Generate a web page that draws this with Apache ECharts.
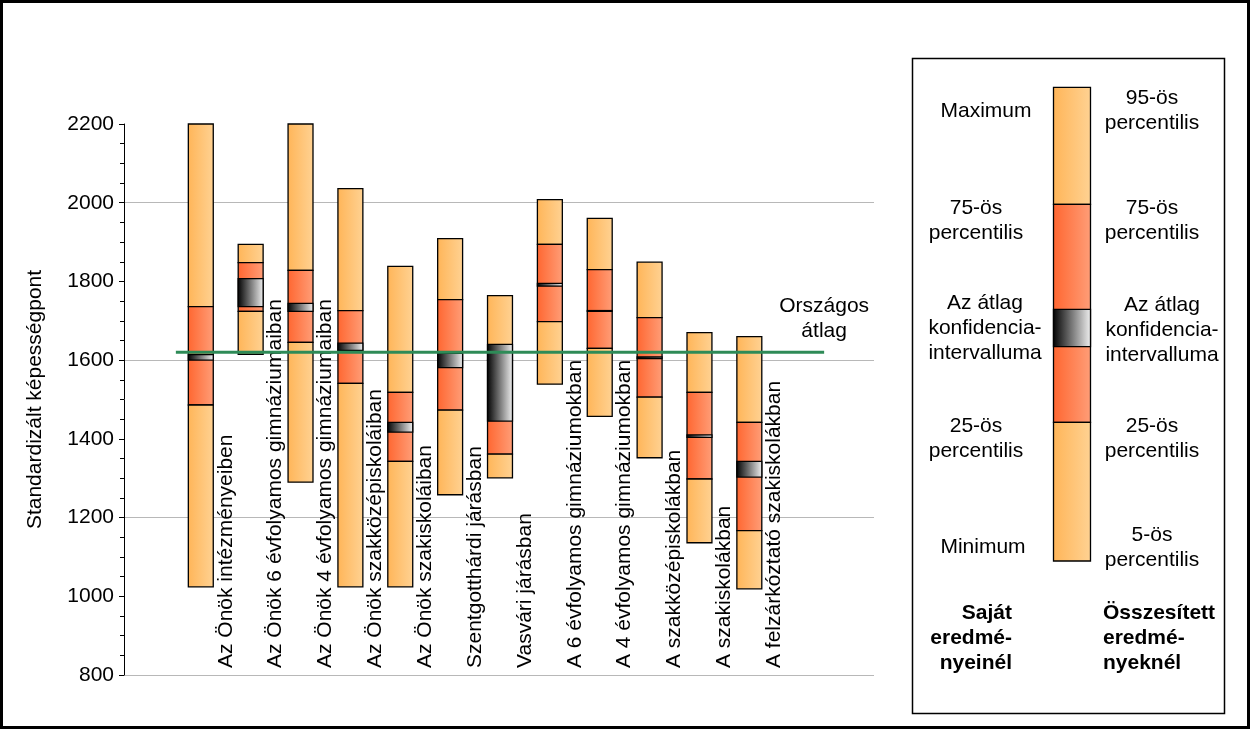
<!DOCTYPE html>
<html>
<head>
<meta charset="utf-8">
<script src="https://cdn.jsdelivr.net/npm/echarts@6/dist/echarts.min.js"></script>
<style>
html,body{margin:0;padding:0;background:#fff;}
#chart{width:1250px;height:729px;}
</style>
</head>
<body>
<div id="chart"></div>
<script>
// ---- data ----
const categories = [
  'Az Önök intézményeiben',
  'Az Önök 6 évfolyamos gimnáziumaiban',
  'Az Önök 4 évfolyamos gimnáziumaiban',
  'Az Önök szakközépiskoláiban',
  'Az Önök szakiskoláiban',
  'Szentgotthárdi járásban',
  'Vasvári járásban',
  'A 6 évfolyamos gimnáziumokban',
  'A 4 évfolyamos gimnáziumokban',
  'A szakközépiskolákban',
  'A szakiskolákban',
  'A felzárkóztató szakiskolákban'
];
const lowVals    = [1024, 1615, 1290, 1024, 1024, 1258, 1301, 1539, 1457, 1352, 1136, 1019];
const p25Vals    = [1486, 1724, 1645, 1541, 1343, 1473, 1361, 1698, 1630, 1506, 1298, 1167];
const ciLowVals  = [1600, 1736, 1724, 1625, 1417, 1581, 1445, 1788, 1724, 1604, 1404, 1303];
const ciHighVals = [1614, 1807, 1744, 1643, 1442, 1617, 1640, 1795, 1726, 1608, 1410, 1343];
const p75Vals    = [1736, 1848, 1828, 1726, 1518, 1754, 1600, 1894, 1830, 1708, 1518, 1442];
const highVals   = [2200, 1894, 2200, 2036, 1838, 1909, 1764, 2008, 1960, 1849, 1670, 1660];
const nationalAvg = 1620;
const nationalLabel = 'Országos\nátlag';
const yAxisName = 'Standardizált képességpont';
const legendLeft = ['Maximum', '75-ös\npercentilis', 'Az átlag\nkonfidencia-\nintervalluma', '25-ös\npercentilis', 'Minimum'];
const legendRight = ['95-ös\npercentilis', '75-ös\npercentilis', 'Az átlag\nkonfidencia-\nintervalluma', '25-ös\npercentilis', '5-ös\npercentilis'];
const legendFootLeft = 'Saját\neredmé-\nnyeinél';
const legendFootRight = 'Összesített\neredmé-\nnyeknél';

// ---- styles ----
const FONT = '"Liberation Sans", Arial, sans-serif';
function grad(c0, c1) {
  return new echarts.graphic.LinearGradient(0, 0, 1, 0, [{offset: 0, color: c0}, {offset: 1, color: c1}]);
}
const LIGHT = () => grad('#ffb558', '#ffd293');
const RED = () => grad('#ff6630', '#ff9e78');
const CI = () => grad('#000000', '#f2f2f2');

const boxData = categories.map((c, i) => [i, lowVals[i], p25Vals[i], ciLowVals[i], ciHighVals[i], p75Vals[i], highVals[i]]);

const chart = echarts.init(document.getElementById('chart'), null, {renderer: 'canvas'});

function renderBox(params, api) {
  const i = api.value(0);
  const lo = api.value(1), q1 = api.value(2), cl = api.value(3), ch = api.value(4), q3 = api.value(5), hi = api.value(6);
  const w = api.size([0.5, 0])[0];
  const cx = api.coord([i, lo])[0];
  const x = cx - w / 2;
  function seg(a, b, fill) {
    const yTop = api.coord([i, b])[1];
    const yBot = api.coord([i, a])[1];
    return {type: 'rect', shape: {x: x, y: yTop, width: w, height: yBot - yTop},
      style: {fill: fill, stroke: '#000', lineWidth: 1.3}};
  }
  const base = api.coord([i + 0.5, 800]);
  const label = {
    type: 'text', x: base[0], y: base[1] - 7, rotation: Math.PI / 2,
    style: {text: categories[i], font: '21px ' + FONT, fill: '#000', align: 'left', verticalAlign: 'middle'}
  };
  return {type: 'group', children: [
    seg(q3, hi, LIGHT()), seg(q1, q3, RED()), seg(lo, q1, LIGHT()), seg(cl, ch, CI()), label
  ]};
}

function renderAvg(params, api) {
  const p0 = api.coord([api.value(0), api.value(2)]);
  const p1 = api.coord([api.value(1), api.value(2)]);
  return {type: 'group', children: [
    {type: 'line', shape: {x1: p0[0], y1: p0[1], x2: p1[0], y2: p1[1]}, style: {stroke: '#2e8b57', lineWidth: 3.2}},
    {type: 'text', x: p1[0], y: p1[1] - 9,
      style: {text: nationalLabel, font: '21px ' + FONT, fill: '#000', align: 'center', verticalAlign: 'bottom', lineHeight: 25}}
  ]};
}

// legend graphic
const LX = 1053.5, LW = 37;
function lrect(y0, y1, fill) {
  return {type: 'rect', shape: {x: LX, y: y0, width: LW, height: y1 - y0}, style: {fill: fill, stroke: '#000', lineWidth: 1.3}};
}
function ltext(t, x, y, align, bold) {
  return {type: 'text', style: {text: t, x: x, y: y, font: (bold ? 'bold ' : '') + '21px ' + FONT, fill: '#000',
    align: align, verticalAlign: 'middle', lineHeight: 25}};
}
const leftX = [986, 976, 985, 976, 983];
const leftY = [111, 220.5, 328, 438.5, 547];
const rightX = [1152, 1152, 1162, 1152, 1152];
const rightY = [110.5, 220.5, 330, 438.5, 548];
const graphics = [
  {type: 'rect', shape: {x: 1.5, y: 1.5, width: 1247, height: 726}, style: {fill: 'none', stroke: '#000', lineWidth: 3}},
  {type: 'rect', shape: {x: 912.5, y: 58.5, width: 312, height: 655}, style: {fill: 'none', stroke: '#000', lineWidth: 1.5}},
  lrect(87.3, 204.3, LIGHT()), lrect(204.3, 422.3, RED()), lrect(422.3, 561, LIGHT()), lrect(309.3, 346.7, CI())
];
legendLeft.forEach((t, k) => graphics.push(ltext(t, leftX[k], leftY[k], 'center', false)));
legendRight.forEach((t, k) => graphics.push(ltext(t, rightX[k], rightY[k], 'center', false)));
graphics.push(ltext(legendFootLeft, 1012, 638, 'right', true));
graphics.push(ltext(legendFootRight, 1103, 638, 'left', true));

chart.setOption({
  animation: false,
  backgroundColor: '#fff',
  textStyle: {fontFamily: FONT},
  grid: {left: 124, right: 376, top: 124, bottom: 54, containLabel: false},
  xAxis: {type: 'value', min: -1.54, max: 13.5, show: false},
  yAxis: {
    type: 'value', min: 800, max: 2200, interval: 200,
    name: yAxisName, nameLocation: 'middle', nameGap: 78, nameRotate: 90,
    nameTextStyle: {fontSize: 21, color: '#000', fontFamily: FONT},
    axisLine: {show: true, onZero: false, lineStyle: {color: '#000', width: 1}},
    axisTick: {show: true, length: 5, inside: false, lineStyle: {color: '#000'}},
    minorTick: {show: true, splitNumber: 4, length: 4, lineStyle: {color: '#000'}},
    axisLabel: {fontSize: 21, color: '#000', margin: 10, fontFamily: FONT, formatter: v => String(v)},
    splitLine: {show: true, lineStyle: {color: ['#b8b8b8', 'rgba(0,0,0,0)'], width: 1}}
  },
  graphic: graphics,
  series: [
    {type: 'custom', renderItem: renderBox, data: boxData, clip: false, z: 2},
    {type: 'custom', renderItem: renderAvg, data: [[-0.5, 12.5, nationalAvg]], clip: false, z: 3}
  ]
});
</script>
</body>
</html>
